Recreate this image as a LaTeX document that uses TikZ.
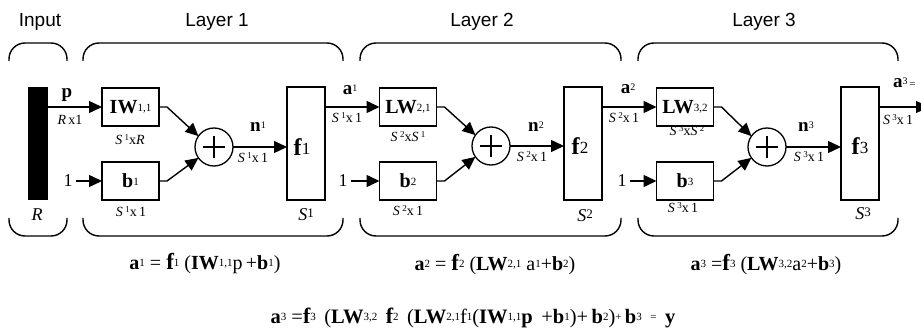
\documentclass[tikz,border=0pt]{standalone}
\usepackage{fontspec}
\setmainfont{Liberation Serif}
\newfontfamily\lsans{Liberation Sans}
\usetikzlibrary{arrows.meta}
\newcommand{\bix}[1]{\raisebox{2pt}{\fontsize{11}{11}\selectfont\mdseries #1}}
\newcommand{\lix}[1]{\raisebox{3pt}{\fontsize{10}{10}\selectfont\mdseries #1}}
\newcommand{\eix}[1]{\raisebox{3pt}{\fontsize{11}{11}\selectfont\mdseries #1}}
\newcommand{\dsup}[1]{\raisebox{4pt}{\fontsize{9}{9}\selectfont #1}}
\newcommand{\bigf}[1]{{\fontsize{23}{23}\selectfont\bfseries f}\eix{#1}}
\newcommand{\midf}[1]{{\fontsize{22}{22}\selectfont\bfseries f}\eix{#1}}
\begin{document}
\begin{tikzpicture}[x=1pt,y=-1pt,
  every node/.style={inner sep=0pt, outer sep=0pt},
  blk/.style={draw, line width=1.1pt, minimum width=57pt, minimum height=38pt, font=\fontsize{20}{20}\selectfont\bfseries},
  fbx/.style={draw, line width=1.1pt, minimum width=38pt, minimum height=113pt},
  ftx/.style={font=\fontsize{24}{24}\selectfont},
  sumc/.style={draw, circle, line width=1.3pt, minimum size=38pt},
  wire/.style={line width=1.4pt},
  arr/.style={wire, -{Triangle[length=13pt,width=12pt]}},
  brk/.style={line width=1.4pt, rounded corners=16pt},
  hdr/.style={font=\lsans\fontsize{19}{19}\selectfont},
  dim/.style={font=\fontsize{14}{14}\selectfont},
  lbl/.style={font=\fontsize{19}{19}\selectfont\bfseries},
  num/.style={font=\fontsize{18}{18}\selectfont},
  big/.style={font=\fontsize{18}{18}\selectfont\itshape},
  eq/.style={font=\fontsize{20}{20}\selectfont},
  eqb/.style={font=\fontsize{20.5}{20.5}\selectfont}
]
\useasboundingbox (0,0) rectangle (921,331);
% headers
\node[hdr] (tin) at (40,22) {Input};
\node[hdr] (tl1) at (217,22) {Layer 1};
\node[hdr] (tl2) at (482,22) {Layer 2};
\node[hdr] (tl3) at (764,22) {Layer 3};
% brackets
\draw[brk] (9,61) -- (9,43) -- (67,43) -- (67,61);
\draw[brk] (9,218) -- (9,236) -- (67,236) -- (67,218);
\draw[brk] (83,61) -- (83,43) -- (343,43) -- (343,61);
\draw[brk] (83,218) -- (83,236) -- (343,236) -- (343,218);
\draw[brk] (360,61) -- (360,43) -- (621,43) -- (621,61);
\draw[brk] (360,218) -- (360,236) -- (621,236) -- (621,218);
\draw[brk] (638,61) -- (638,43) -- (898,43) -- (898,61);
\draw[brk] (638,218) -- (638,236) -- (898,236) -- (898,218);
% input
\node[fill=black, minimum width=20pt, minimum height=113pt] (bar) at (38,143.5) {};
\node[big] (lr) at (37,215) {R};
\node[lbl] (lp) at (67,95) {p};
\node[dim] (lrx) at (70,120) {\textit{R}\,x1};
% layer 1
\node[blk] (iw) at (130.5,107) {IW\bix{1,1}};
\node[blk] (b1) at (130.5,181) {b\bix{1}};
\node[dim] (d1a) at (130,140) {\textit{S}\,\dsup{1}x\textit{R}};
\node[dim] (d1b) at (131,212) {\textit{S}\,\dsup{1}x\,1};
\node[num] (one1) at (68,181) {1};
\node[sumc] (s1) at (214,147) {};
\node[lbl] (n1) at (258,127) {n\lix{1}};
\node[dim] (d1n) at (253,158) {\textit{S}\,\dsup{1}x\,1};
\node[fbx] (f1) at (306,143.5) {};
\node[ftx] (f1t) at (302,147) {\textbf{f}\raisebox{1pt}{\fontsize{17}{17}\selectfont 1}};
\node[big] (sf1) at (306,215) {S\raisebox{3pt}{\upshape\fontsize{13}{13}\selectfont 1}};
% layer 2
\node[lbl] (a1) at (350,90) {a\lix{1}};
\node[dim] (d2i) at (347,118) {\textit{S}\,\dsup{1}x\,1};
\node[blk] (lw2) at (408,107) {LW\bix{2,1}};
\node[blk] (b2) at (408,181) {b\bix{2}};
\node[dim] (d2a) at (408,137) {\textit{S}\,\dsup{2}x\textit{S}\,\dsup{1}};
\node[dim] (d2b) at (408,211) {\textit{S}\,\dsup{2}x\,1};
\node[num] (one2) at (343,181) {1};
\node[sumc] (s2) at (491,146) {};
\node[lbl] (n2) at (536,127) {n\lix{2}};
\node[dim] (d2n) at (532,157) {\textit{S}\,\dsup{2}x\,1};
\node[fbx] (f2) at (583,143.5) {};
\node[ftx] (f2t) at (580,146) {\textbf{f}\raisebox{1pt}{\fontsize{17}{17}\selectfont 2}};
\node[big] (sf2) at (585,216) {S\raisebox{3pt}{\upshape\fontsize{13}{13}\selectfont 2}};
% layer 3
\node[lbl] (a2) at (628,89) {a\lix{2}};
\node[dim] (d3i) at (624,118) {\textit{S}\,\dsup{2}x\,1};
\node[blk] (lw3) at (685,107) {LW\bix{3,2}};
\node[blk] (b3) at (685,181) {b\bix{3}};
\node[dim] (d3a) at (687,131) {\textit{S}\,\dsup{3}x\textit{S}\,\dsup{2}};
\node[dim] (d3b) at (683,208) {\textit{S}\,\dsup{3}x\,1};
\node[num] (one3) at (622,181) {1};
\node[sumc] (s3) at (767,147) {};
\node[lbl] (n3) at (806,127) {n\lix{3}};
\node[dim] (d3n) at (809,157) {\textit{S}\,\dsup{3}x\,1};
\node[fbx] (f3) at (860,143.5) {};
\node[ftx] (f3t) at (860,146) {\textbf{f}\raisebox{1pt}{\fontsize{17}{17}\selectfont 3}};
\node[big] (sf3) at (863,214) {S\raisebox{3pt}{\upshape\fontsize{13}{13}\selectfont 3}};
\node[lbl, anchor=west] (a3) at (893,83) {a\lix{3}\fontsize{11}{11}\selectfont\mdseries\,=};
\node[dim, anchor=west] (d3o) at (883,120) {\textit{S}\,\dsup{3}x\,1};
\coordinate (outend) at (929,107);
% plus signs
\foreach \s in {s1,s2,s3}{
  \draw[line width=1.4pt] ([xshift=-11pt]\s.center) -- ([xshift=11pt]\s.center);
  \draw[line width=1.4pt] ([yshift=-11pt]\s.center) -- ([yshift=11pt]\s.center);
}
% wires
\draw[arr] (bar.east |- iw.west) -- (iw.west);
\draw[arr] ([xshift=3pt]one1.east) -- (b1.west);
\draw[arr] (iw.east) -- ++(8,0) -- (s1.145);
\draw[arr] (b1.east) -- ++(8,0) -- (s1.215);
\draw[arr] (s1.east) -- (s1.east -| f1.west);
\draw[arr] (f1.east |- lw2.west) -- (lw2.west);
\draw[arr] ([xshift=3pt]one2.east) -- (b2.west);
\draw[arr] (lw2.east) -- ++(8,0) -- (s2.145);
\draw[arr] (b2.east) -- ++(8,0) -- (s2.215);
\draw[arr] (s2.east) -- (s2.east -| f2.west);
\draw[arr] (f2.east |- lw3.west) -- (lw3.west);
\draw[arr] ([xshift=3pt]one3.east) -- (b3.west);
\draw[arr] (lw3.east) -- ++(8,0) -- (s3.145);
\draw[arr] (b3.east) -- ++(8,0) -- (s3.215);
\draw[arr] (s3.east) -- (s3.east -| f3.west);
\draw[arr] (f3.east |- lw3.west) -- (outend);
% equations
\node[eq] (e1) at (205,264) {\textbf{a}\eix{1} = \bigf{1} (\textbf{IW}\eix{1,1}p\,+\textbf{b}\eix{1})};
\node[eq] (e2) at (495,265) {\textbf{a}\eix{2} = \bigf{2} (\textbf{LW}\eix{2,1} a\eix{1}+\textbf{b}\eix{2})};
\node[eq] (e3) at (766,265) {\textbf{a}\eix{3} =\bigf{3} (\textbf{LW}\eix{3,2}a\eix{2}+\textbf{b}\eix{3})};
\node[eqb] (e4) at (473,318) {\textbf{a}\eix{3} =\midf{3}\, (\textbf{LW}\eix{3,2}\, \midf{2}\, (\textbf{LW}\eix{2,1}f\eix{1}(\textbf{IW}\eix{1,1}\textbf{p}\, +\textbf{b}\eix{1})+\,\textbf{b}\eix{2})\eix{+}\,\textbf{b}\eix{3}\, \eix{=}\, \textbf{y}};
\end{tikzpicture}
\end{document}
